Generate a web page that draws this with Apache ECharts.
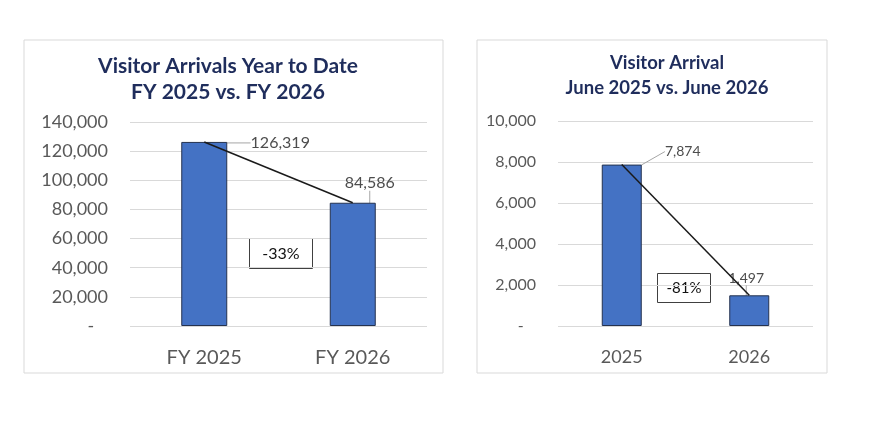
<!DOCTYPE html>
<html>
<head>
<meta charset="utf-8">
<script src="https://cdn.jsdelivr.net/npm/echarts@6/dist/echarts.min.js"></script>
<style>
  html, body { margin: 0; padding: 0; background: #fff; }
  #main { width: 886px; height: 440px; }
</style>
</head>
<body>
<div id="main"></div>
<script>
// 数据
const ytdCategories = ['FY 2025', 'FY 2026'];
const ytdValues = [126319, 84586];
const ytdMax = 140000;
const ytdStep = 20000;

const juneCategories = ['2025', '2026'];
const juneValues = [7874, 1497];
const juneMax = 10000;
const juneStep = 2000;

const FONT = 'Lato, "Open Sans", sans-serif';
const NAVY = '#1f2d5c';
const GRAY = '#595959';

// 变化百分比
function change(arr) {
    return Math.round((arr[1] - arr[0]) / arr[0] * 100) + '%';
}
// 0 显示成 "-"
function fmt(v) {
    return v === 0 ? '-   ' : v.toLocaleString('en-US');
}

let chart = echarts.init(document.getElementById('main'));

// 两个坐标系共用的配置
function xAxisOf(idx, cats, size) {
    return {
        type: 'category', gridIndex: idx, data: cats,
        axisLine: { show: false }, axisTick: { show: false },
        axisLabel: { color: GRAY, fontSize: size, fontFamily: FONT, margin: 22 }
    };
}
function yAxisOf(idx, max, step, size) {
    return {
        type: 'value', gridIndex: idx, min: 0, max: max, interval: step,
        axisLine: { show: false }, axisTick: { show: false },
        splitLine: { lineStyle: { color: '#d9d9d9', width: 1 } },
        axisLabel: { color: GRAY, fontSize: size, fontFamily: FONT, margin: 22, formatter: fmt }
    };
}
function barOf(idx, values, width, shifts) {
    return {
        type: 'bar', xAxisIndex: idx, yAxisIndex: idx, barWidth: width,
        data: values,
        itemStyle: { color: '#4472c4', borderColor: '#24324f', borderWidth: 1 },
        label: {
            show: true, position: 'top', color: '#4d4d4d', fontFamily: FONT,
            fontSize: idx === 0 ? 16 : 14,
            formatter: p => p.value.toLocaleString('en-US')
        },
        labelLayout: p => shifts[p.dataIndex],
        labelLine: { show: true, length2: 0, lineStyle: { color: '#a6a6a6', width: 1 } }
    };
}
function lineOf(idx, values) {
    return {
        type: 'line', xAxisIndex: idx, yAxisIndex: idx, data: values,
        symbol: 'none', z: 5,
        lineStyle: { color: '#1a1a1a', width: 1.5 }
    };
}
// 百分比方框
function boxOf(x, y, w, h, text, size) {
    return {
        type: 'group', left: x, top: y, z: 10,
        children: [
            { type: 'rect', shape: { x: 0, y: 0, width: w, height: h },
              style: { fill: '#fff', stroke: '#404040', lineWidth: 1 } },
            { type: 'text', x: w / 2, y: h / 2,
              style: { text: text, fill: '#111', font: size + 'px ' + FONT,
                       textAlign: 'center', textVerticalAlign: 'middle' } }
        ]
    };
}

let option = {
    animation: false,
    title: [
        {
            text: 'Visitor Arrivals Year to Date\nFY 2025 vs. FY 2026',
            left: 223, top: 48, textAlign: 'center',
            textStyle: { color: NAVY, fontSize: 21, fontWeight: 'bold', fontFamily: FONT, lineHeight: 26 }
        },
        {
            text: 'Visitor Arrival\nJune 2025 vs. June 2026',
            left: 662, top: 46, textAlign: 'center',
            textStyle: { color: NAVY, fontSize: 18.5, fontWeight: 'bold', fontFamily: FONT, lineHeight: 25 }
        }
    ],
    grid: [
        { left: 130, top: 122, width: 297, height: 204 },
        { left: 558, top: 121, width: 255, height: 205 }
    ],
    xAxis: [xAxisOf(0, ytdCategories, 20), xAxisOf(1, juneCategories, 18)],
    yAxis: [yAxisOf(0, ytdMax, ytdStep, 18), yAxisOf(1, juneMax, juneStep, 16)],
    series: [
        barOf(0, ytdValues, 46, [{ dx: 76, dy: 14 }, { dx: 17, dy: -7 }]),
        lineOf(0, ytdValues),
        barOf(1, juneValues, 40, [{ dx: 61, dy: -1 }, { dx: -3, dy: -5 }]),
        lineOf(1, juneValues)
    ],
    graphic: [
        { type: 'rect', z: -1, shape: { x: 24, y: 40, width: 419, height: 333 },
          style: { fill: 'none', stroke: '#d9d9d9', lineWidth: 1 } },
        { type: 'rect', z: -1, shape: { x: 477, y: 40, width: 350, height: 333 },
          style: { fill: 'none', stroke: '#d9d9d9', lineWidth: 1 } },
        boxOf(249, 238, 63, 30, change(ytdValues), 16),
        boxOf(657, 273, 53, 29, change(juneValues), 15)
    ]
};
chart.setOption(option);
</script>
</body>
</html>
